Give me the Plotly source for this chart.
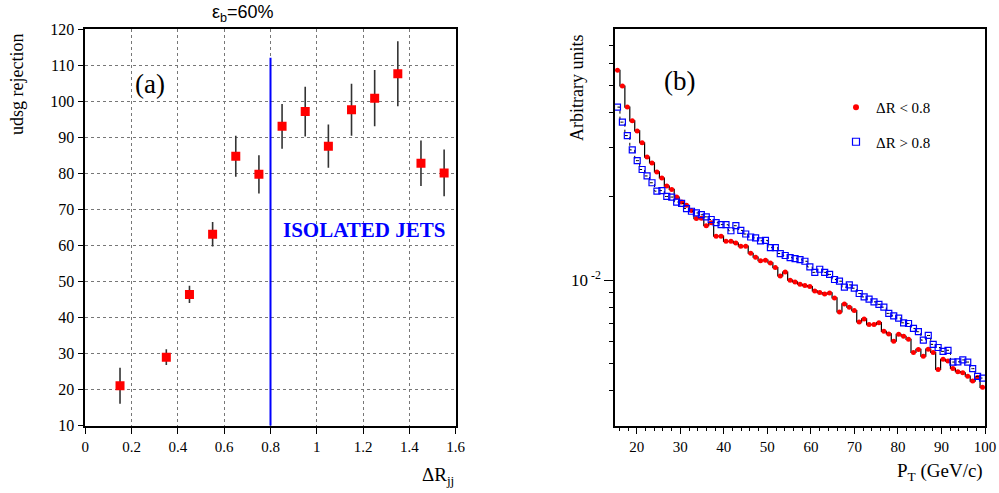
import numpy as np
import plotly.graph_objects as go

# ---------------- Panel (a) data ----------------
dr_centers = [0.15, 0.35, 0.45, 0.55, 0.65, 0.75, 0.85, 0.95, 1.05, 1.15, 1.25, 1.35, 1.45, 1.55]
rejection = [21.1, 29.0, 46.4, 63.1, 84.7, 79.7, 93.0, 97.1, 87.5, 97.6, 100.8, 107.6, 82.8, 80.1]
rejection_err = [5.0, 2.2, 2.4, 3.4, 5.7, 5.3, 6.2, 6.9, 6.0, 7.2, 7.8, 9.0, 6.3, 6.5]
iso_cut = 0.8
iso_line_y = [10, 112]

# ---------------- Panel (b) data ----------------
PT_MIN, PT_MAX, N_BINS = 15.0, 100.0, 75
pt_edges = np.linspace(PT_MIN, PT_MAX, N_BINS + 1)
pt_centers = 0.5 * (pt_edges[:-1] + pt_edges[1:])

dr_small = [0.0568, 0.0499, 0.0419, 0.0374, 0.0344, 0.0312, 0.0277, 0.0264, 0.0245, 0.0233,
            0.0218, 0.0212, 0.0199, 0.0191, 0.0186, 0.0178, 0.01665, 0.0167, 0.0157, 0.0161,
            0.0144, 0.0144, 0.0138, 0.0138, 0.0136, 0.01325, 0.01325, 0.0125, 0.0121, 0.01175,
            0.0118, 0.01154, 0.0111, 0.01036, 0.0107, 0.0100, 0.00986, 0.00967, 0.00957, 0.00949,
            0.00915, 0.00903, 0.00892, 0.00900, 0.00864, 0.00769, 0.00822, 0.00800, 0.00778, 0.00708,
            0.00726, 0.00693, 0.00693, 0.00704, 0.00655, 0.00641, 0.00604, 0.00639, 0.00629, 0.00613,
            0.00550, 0.00564, 0.00533, 0.00565, 0.00550, 0.00478, 0.00520, 0.00512, 0.00482, 0.00469,
            0.00465, 0.00452, 0.00434, 0.00447, 0.00412]

dr_large = [0.0419, 0.0370, 0.0331, 0.0294, 0.0269, 0.0250, 0.0237, 0.0224, 0.0209, 0.0210,
            0.0200, 0.0199, 0.0191, 0.0189, 0.0181, 0.0177, 0.01745, 0.0172, 0.0169, 0.01653,
            0.0161, 0.01585, 0.01583, 0.01506, 0.0157, 0.0151, 0.01466, 0.0143, 0.0142, 0.01386,
            0.0139, 0.0131, 0.0131, 0.01247, 0.01227, 0.01206, 0.01196, 0.01185, 0.0117, 0.01116,
            0.01067, 0.01095, 0.01067, 0.01049, 0.01006, 0.00992, 0.00944, 0.00962, 0.00936, 0.00896,
            0.00871, 0.00855, 0.00836, 0.00819, 0.00800, 0.00760, 0.00745, 0.00731, 0.00703, 0.00699,
            0.00671, 0.00653, 0.00609, 0.00633, 0.00588, 0.00573, 0.00555, 0.00560, 0.00508, 0.00509,
            0.00517, 0.00508, 0.00481, 0.00451, 0.00445]

y_tick_major = [0.01]
y_tick_minor = [0.004, 0.005, 0.006, 0.007, 0.008, 0.009, 0.02, 0.03, 0.04, 0.05, 0.06, 0.07]

W, H = 999, 493
SERIF = "Liberation Serif"
SANS = "Liberation Sans"


def px_x(x):
    return x / W


def px_y(y):
    return 1 - y / H


fig = go.Figure()

# Panel (a)
fig.add_trace(go.Scatter(
    x=dr_centers, y=rejection,
    error_y=dict(type="data", array=rejection_err, color="#333333", thickness=1.6, width=0),
    mode="markers",
    marker=dict(symbol="square", size=9, color="#ff0000", line=dict(width=0)),
    xaxis="x", yaxis="y", showlegend=False,
))
fig.add_trace(go.Scatter(
    x=[iso_cut, iso_cut], y=iso_line_y, mode="lines",
    line=dict(color="#0000ff", width=2), xaxis="x", yaxis="y", showlegend=False,
))

# Panel (b)
fig.add_trace(go.Scatter(
    x=pt_centers, y=dr_small, mode="lines+markers", line_shape="hvh",
    line=dict(color="black", width=1.2),
    marker=dict(symbol="circle", size=5, color="#ff0000", line=dict(width=0)),
    xaxis="x2", yaxis="y2", showlegend=False,
))
fig.add_trace(go.Scatter(
    x=pt_centers, y=dr_large, mode="lines+markers", line_shape="hvh",
    line=dict(color="black", width=1, dash="dot"),
    marker=dict(symbol="square-open", size=6, color="#0000ff", line=dict(width=1.2, color="#0000ff")),
    xaxis="x2", yaxis="y2", showlegend=False,
))
# legend keys
fig.add_trace(go.Scatter(
    x=[None], y=[None], mode="markers", name="\u0394R < 0.8", legendgroup="a",
    marker=dict(symbol="circle", size=6, color="#ff0000"), xaxis="x2", yaxis="y2",
))
fig.add_trace(go.Scatter(
    x=[None], y=[None], mode="markers", name="\u0394R > 0.8", legendgroup="b",
    marker=dict(symbol="square-open", size=7, color="#0000ff", line=dict(width=1.2, color="#0000ff")),
    xaxis="x2", yaxis="y2",
))

axis_common = dict(showline=True, linecolor="black", linewidth=1.5, mirror=True,
                   ticks="outside", tickcolor="black", zeroline=False, automargin=False)

fig.update_layout(
    width=W, height=H,
    margin=dict(l=0, r=0, t=0, b=0),
    paper_bgcolor="white", plot_bgcolor="white",
    xaxis=dict(domain=[px_x(85.3), px_x(455.7)], range=[0, 1.6], tickmode="linear", tick0=0, dtick=0.2,
               ticklen=7, showgrid=True, gridcolor="#777777", griddash="dot", gridwidth=1,
               tickfont=dict(family=SERIF, size=15, color="black"),
               anchor="y", **axis_common),
    yaxis=dict(domain=[px_y(425.7), px_y(29)], range=[10, 120], tickmode="linear", tick0=10, dtick=10,
               ticklen=6, showgrid=True, gridcolor="#777777", griddash="dot", gridwidth=1,
               tickfont=dict(family=SERIF, size=16, color="black"),
               anchor="x", **axis_common),
    xaxis2=dict(domain=[px_x(615), px_x(985)], range=[PT_MIN, PT_MAX], tickmode="linear", tick0=20, dtick=10,
                ticklen=7, showgrid=False, anchor="y2",
                tickfont=dict(family=SERIF, size=15, color="black"),
                minor=dict(tickmode="linear", tick0=16, dtick=2, ticklen=4, ticks="outside", tickcolor="black", showgrid=False),
                **axis_common),
    yaxis2=dict(domain=[px_y(425.7), px_y(28.5)], type="log",
                range=[np.log10(0.003), np.log10(0.0803)],
                tickmode="array", tickvals=y_tick_major, ticktext=["10<sup> -2</sup>"],
                ticklen=9, showgrid=False, anchor="x2",
                tickfont=dict(family=SERIF, size=17, color="black"),
                minor=dict(tickmode="array", tickvals=y_tick_minor, ticklen=4, ticks="outside", tickcolor="black", showgrid=False),
                **axis_common),
    legend=dict(x=px_x(836), y=px_y(91), xanchor="left", yanchor="top",
                font=dict(family=SERIF, size=15, color="black"),
                bgcolor="rgba(0,0,0,0)", traceorder="grouped", tracegroupgap=12,
                itemwidth=30),
    showlegend=True,
)

ann = [
    dict(text="\u03b5<sub>b</sub>=60%", x=px_x(243), y=px_y(13), font=dict(family=SANS, size=18)),
    dict(text="(a)", x=px_x(150), y=px_y(84), font=dict(family=SERIF, size=27)),
    dict(text="<b>ISOLATED JETS</b>", x=px_x(364), y=px_y(230), font=dict(family=SERIF, size=21, color="#0000ff")),
    dict(text="udsg rejection", x=px_x(17), y=px_y(85), textangle=-90, font=dict(family=SERIF, size=18)),
    dict(text="\u0394R<sub>jj</sub>", x=px_x(456), y=px_y(476), xanchor="right", font=dict(family=SERIF, size=19)),
    dict(text="(b)", x=px_x(679), y=px_y(81), font=dict(family=SERIF, size=27)),
    dict(text="Arbitrary units", x=px_x(577), y=px_y(88), textangle=-90, font=dict(family=SERIF, size=18)),
    dict(text="P<sub>T</sub> (GeV/c)", x=px_x(985), y=px_y(472), xanchor="right", font=dict(family=SERIF, size=19)),
]
for a in ann:
    a.setdefault("xanchor", "center")
    a["font"].setdefault("color", "black")
    fig.add_annotation(xref="paper", yref="paper", showarrow=False, yanchor="middle", **a)

fig.write_html("out.html")
